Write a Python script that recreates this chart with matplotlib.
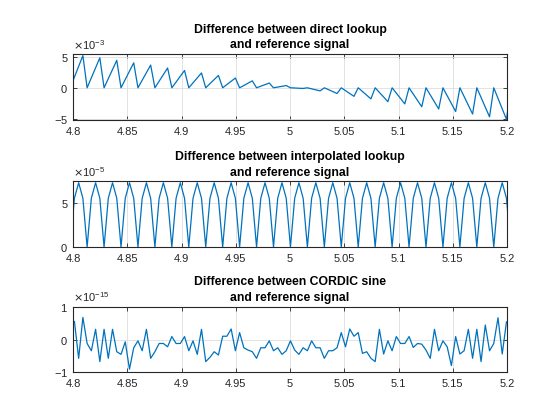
import matplotlib
matplotlib.use('Agg')
import matplotlib.pyplot as plt
import numpy as np
from matplotlib.ticker import MultipleLocator, FuncFormatter, ScalarFormatter

# Plot style, close to the MATLAB default look
plt.rcParams['font.family'] = ['Liberation Sans', 'DejaVu Sans']
plt.rcParams['axes.unicode_minus'] = False

# Sample grid (samples k = -4 ... 100), line is clipped to [4.8, 5.2]
x_start = 4.79738
x_step = 0.003904
n_samples = 105

# Difference between direct lookup and reference signal (x 1e-3)
direct_err = [
    0, 1.73, 3.47, 5.20,   0, 1.62, 3.23, 4.85,   0, 1.48, 2.96, 4.44,
    0, 1.34, 2.69, 4.03,   0, 1.22, 2.45, 3.67,   0, 1.07, 2.13, 3.20,
    0, 0.93, 1.87, 2.80,   0, 0.80, 1.60, 2.40,   0, 0.67, 1.33, 2.00,
    0, 0.53, 1.05, 1.58,   0, 0.37, 0.75, 1.12,   0, 0.26, 0.51, 0.77,
    0, 0.12, 0.24, 0.36,   0, -0.03, -0.07, -0.10, 0, -0.17, -0.33, -0.50,
    0, -0.31, -0.61, -0.92, 0, -0.46, -0.92, -1.38, 0, -0.60, -1.19, -1.79,
    0, -0.75, -1.49, -2.24, 0, -0.87, -1.73, -2.60, 0, -1.02, -2.04, -3.06,
    0, -1.14, -2.28, -3.42, 0, -1.28, -2.55, -3.83, 0, -1.41, -2.82, -4.23,
    0, -1.56, -3.13, -4.69, 0, -1.70, -3.40, -5.10, 0,
]

# Difference between interpolated lookup and reference signal (x 1e-5)
interp_err = [
    0, 5.5, 7.25, 5.5,  0, 5.5, 7.25, 5.5,  0, 5.5, 7.25, 5.5,  0, 5.5, 7.25, 5.5,
    0, 5.5, 7.25, 5.5,  0, 5.5, 7.25, 5.5,  0, 5.5, 7.25, 5.5,  0, 5.5, 7.25, 5.5,
    0, 5.5, 7.25, 5.5,  0, 5.5, 7.25, 5.5,  0, 5.5, 7.25, 5.5,  0, 5.5, 7.25, 5.5,
    0, 5.5, 7.25, 5.5,  0, 5.5, 7.25, 5.5,  0, 5.5, 7.25, 5.5,  0, 5.5, 7.25, 5.5,
    0, 5.5, 7.25, 5.5,  0, 5.5, 7.25, 5.5,  0, 5.5, 7.25, 5.5,  0, 5.5, 7.25, 5.5,
    0, 5.5, 7.25, 5.5,  0, 5.5, 7.25, 5.5,  0, 5.5, 7.25, 5.5,  0, 5.5, 7.25, 5.5,
    0, 5.5, 7.25, 5.5,  0, 5.5, 7.25, 5.5,  0,
]

# Difference between CORDIC sine and reference signal (x 1e-15)
cordic_err = [
    0.30, 0.55, -0.57, 0.67, -0.12, -0.34, 0.31, -0.67, 0.31, -0.57,
    0.31, -0.37, -0.45, -0.07, -0.90, -0.25, -0.04, -0.34, 0.31, -0.57,
    -0.37, -0.12, -0.12, -0.22, 0.09, -0.12, -0.12, 0.09, -0.34, -0.04,
    -0.45, 0.31, -0.67, -0.54, -0.37, -0.47, 0.10, 0.10, 0.32, -0.34,
    0.21, -0.25, -0.32, -0.37, -0.57, -0.25, -0.25, -0.04, -0.34, -0.25,
    -0.45, -0.34, -0.04, -0.32, -0.45, -0.25, -0.34, -0.04, -0.25, -0.25,
    -0.57, -0.34, -0.34, -0.25, 0.21, -0.22, 0.32, 0.10, 0.21, -0.42,
    -0.37, -0.57, -0.67, 0.31, -0.44, -0.04, -0.34, 0.09, -0.12, -0.12,
    0.09, -0.24, -0.12, -0.14, -0.32, -0.57, 0.31, -0.34, -0.04, -0.22,
    -0.79, 0.09, -0.44, -0.34, 0.31, -0.57, 0.31, -0.67, 0.44, -0.34,
    -0.12, 0.66, -0.44, 0.54, 0.40,
]

titles = [
    'Difference between direct lookup\nand reference signal',
    'Difference between interpolated lookup\nand reference signal',
    'Difference between CORDIC sine\nand reference signal',
]
scales = [1e-3, 1e-5, 1e-15]
ylims = [(-5.2e-3, 5.45e-3), (0, 7.44e-5), (-1e-15, 1e-15)]
yticks = [[-5e-3, 0, 5e-3], [0, 5e-5], [-1e-15, 0, 1e-15]]
series = [direct_err, interp_err, cordic_err]

x = x_start + x_step * np.arange(n_samples)

fig = plt.figure(figsize=(5.6, 4.2), dpi=100)
bottoms = [0.7143, 0.4119, 0.1131]
axis_color = '#262626'

for i in range(3):
    ax = fig.add_axes([0.1304, bottoms[i], 0.775, 0.157])
    ax.plot(x, np.array(series[i]) * scales[i], color='#0072BD', lw=0.9)
    ax.set_xlim(4.8, 5.2)
    ax.set_ylim(*ylims[i])
    ax.set_yticks(yticks[i])
    ax.xaxis.set_major_locator(MultipleLocator(0.05))
    ax.xaxis.set_major_formatter(FuncFormatter(lambda v, p: '%g' % round(v, 4)))
    fmt = ScalarFormatter(useMathText=True)
    fmt.set_powerlimits((0, 0))
    ax.yaxis.set_major_formatter(fmt)
    ax.yaxis.get_offset_text().set_fontsize(8)
    ax.yaxis.get_offset_text().set_color('#444444')
    ax.grid(True, color='#dedede', lw=0.6)
    ax.set_axisbelow(True)
    ax.tick_params(direction='in', length=3, width=0.6, labelsize=8,
                   colors=axis_color, top=True, right=True)
    ax.tick_params(axis='x', pad=5)
    for s in ax.spines.values():
        s.set_color(axis_color)
        s.set_linewidth(0.8)
    ax.set_title(titles[i], fontsize=8.8, fontweight='bold', color='black',
                 pad=4, linespacing=1.4)

fig.savefig('out.png', dpi=100, facecolor='white')
